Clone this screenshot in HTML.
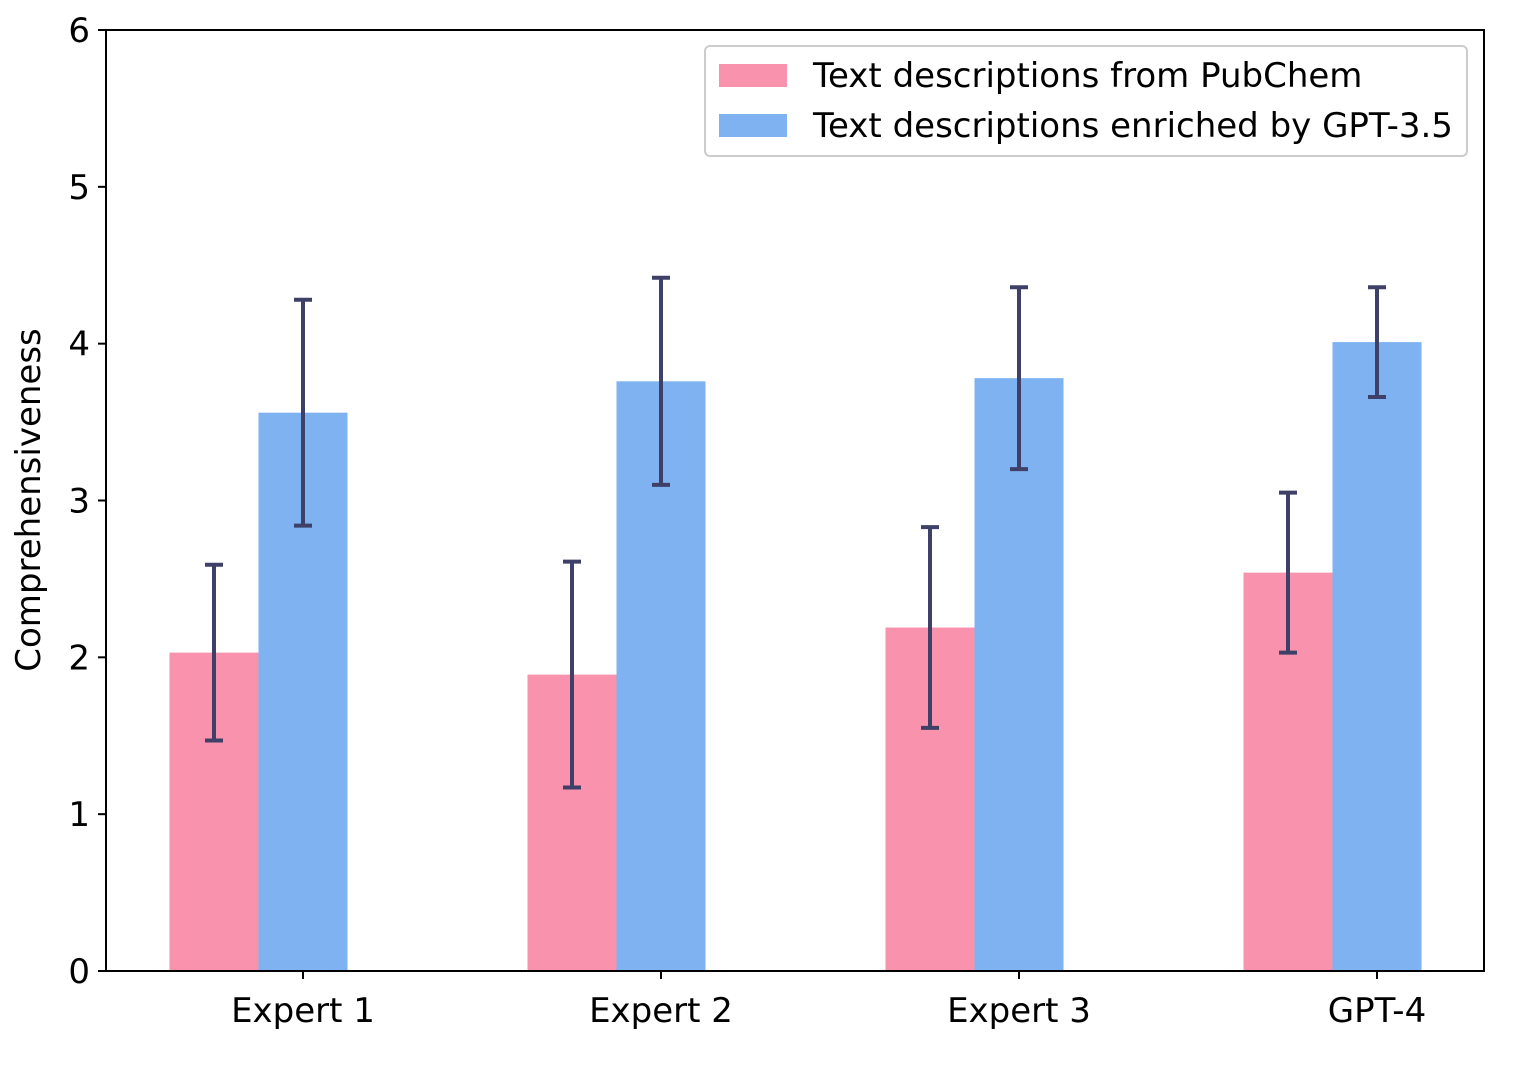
<!DOCTYPE html>
<html><head><meta charset="utf-8"><style>body{margin:0;background:#fff}svg{display:block;font-family:"DejaVu Sans","Liberation Sans",sans-serif}</style></head>
<body>
<svg id="chart" width="1522" height="1088" xmlns="http://www.w3.org/2000/svg">
<g id="marks"></g>
<g id="axes"></g>
<g>
<rect x="705" y="46" width="762" height="110" rx="5" fill="#fff" stroke="#ccc" stroke-width="2"/>
<rect x="719" y="64" width="68" height="23" fill="#f992ad"/>
<text x="813" y="87" font-size="34">Text descriptions from PubChem</text>
<rect x="719" y="114" width="68" height="23" fill="#7fb2f0"/>
<text x="813" y="137" font-size="34">Text descriptions enriched by GPT-3.5</text>
</g>
<text transform="translate(40,500) rotate(-90)" text-anchor="middle" font-size="34">Comprehensiveness</text>
</svg>
<script>
const categories=["Expert 1","Expert 2","Expert 3","GPT-4"];
const pubchem=[2.03,1.89,2.19,2.54];
const pubchemLow=[1.47,1.17,1.55,2.03];
const pubchemHigh=[2.59,2.61,2.83,3.05];
const gpt35=[3.56,3.76,3.78,4.01];
const gpt35Low=[2.84,3.10,3.20,3.66];
const gpt35High=[4.28,4.42,4.36,4.36];
const yTicks=[0,1,2,3,4,5,6];
const NS="http://www.w3.org/2000/svg";
const X0=106,X1=1484,Y0=30,Y1=971;
function y(v){return Y1-(v/6)*(Y1-Y0);}
function gx(i){return 303+i*358;}
const BW=89;
function mk(t,a,p){const e=document.createElementNS(NS,t);for(const k in a)e.setAttribute(k,a[k]);p.appendChild(e);return e;}
const marks=document.getElementById('marks'),axes=document.getElementById('axes');
function err(cx,lo,hi,name){
 const g=mk('g',{},marks);
 
 
 const s={stroke:'#3f4068','stroke-width':4};
 mk('line',Object.assign({x1:cx,x2:cx,y1:y(lo),y2:y(hi)},s),g);
 mk('line',Object.assign({x1:cx-9,x2:cx+9,y1:y(lo),y2:y(lo)},s),g);
 mk('line',Object.assign({x1:cx-9,x2:cx+9,y1:y(hi),y2:y(hi)},s),g);
}
categories.forEach((c,i)=>{
 const cx=gx(i);
 const r1=mk('rect',{x:cx-1.5*BW,y:y(pubchem[i]),width:BW,height:Y1-y(pubchem[i]),fill:'#f992ad'},marks);
 
 
 const r2=mk('rect',{x:cx-0.5*BW,y:y(gpt35[i]),width:BW,height:Y1-y(gpt35[i]),fill:'#7fb2f0'},marks);
 
 
});
categories.forEach((c,i)=>{
 const cx=gx(i);
 err(cx-BW,pubchemLow[i],pubchemHigh[i],'errorbar-pubchem-'+(i+1));
 err(cx,gpt35Low[i],gpt35High[i],'errorbar-gpt35-'+(i+1));
 mk('line',{x1:cx,x2:cx,y1:Y1,y2:Y1+8,stroke:'#000','stroke-width':2},axes);
 const t=mk('text',{x:cx,y:Y1+51,'text-anchor':'middle','font-size':34},axes);
 
 
 t.textContent=c;
});
yTicks.forEach(v=>{
 mk('line',{x1:X0-8,x2:X0,y1:y(v),y2:y(v),stroke:'#000','stroke-width':2},axes);
 const t=mk('text',{x:X0-16,y:y(v)+12,'text-anchor':'end','font-size':34},axes);
 
 
 t.textContent=v;
});
const f=mk('rect',{x:X0,y:Y0,width:X1-X0,height:Y1-Y0,fill:'none',stroke:'#000','stroke-width':2},axes);


</script>
</body></html>
